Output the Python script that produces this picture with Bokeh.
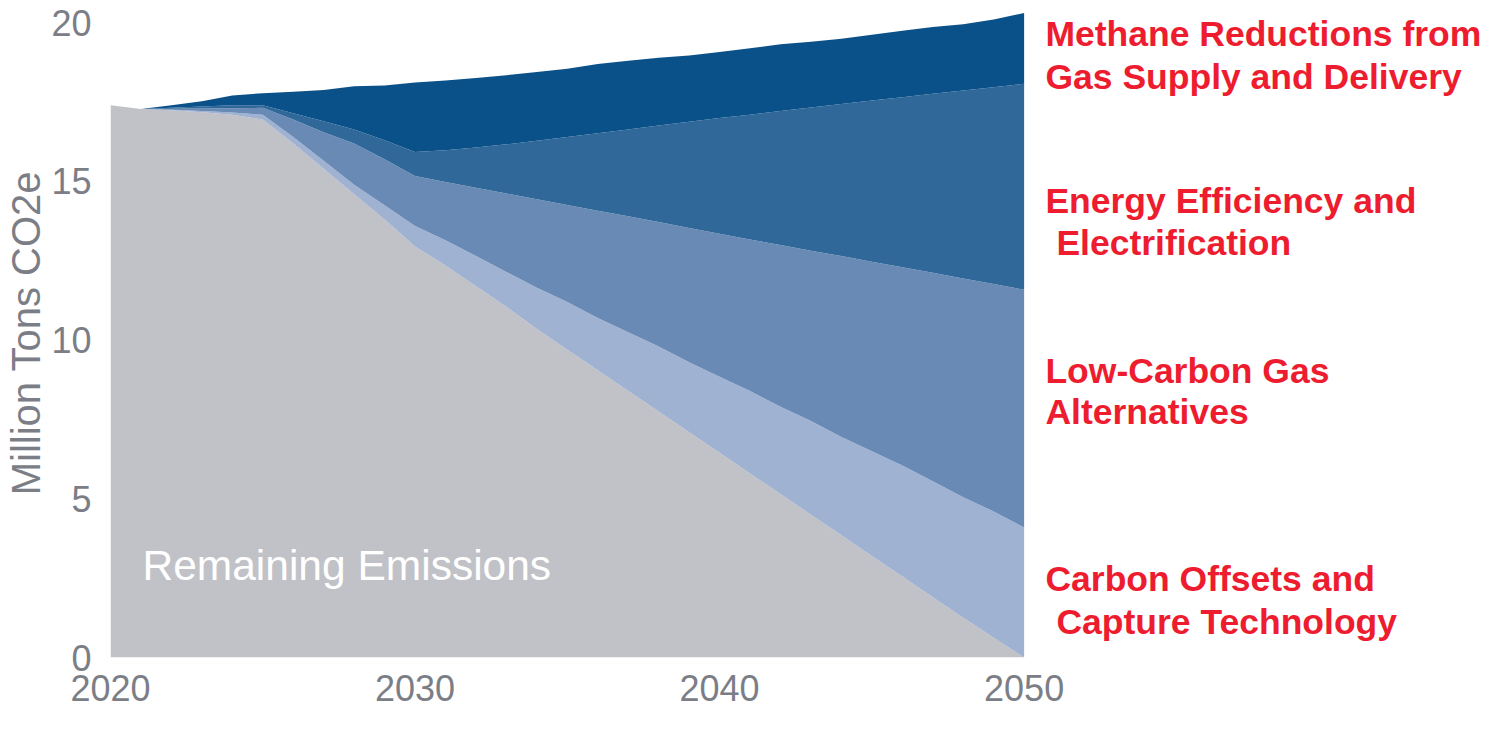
from bokeh.plotting import figure
from bokeh.models import ColumnDataSource, FixedTicker, Range1d
from bokeh.core.properties import value
from bokeh.embed import file_html
from bokeh.resources import INLINE

years = list(range(2020, 2051))

remaining = [17.40, 17.28, 17.24, 17.18, 17.10, 16.95, 16.20, 15.40, 14.60, 13.80,
             12.95, 12.35, 11.70, 11.05, 10.35, 9.70, 9.05, 8.40, 7.75, 7.10,
             6.45, 5.80, 5.15, 4.50, 3.85, 3.20, 2.55, 1.90, 1.25, 0.62, 0.00]
offsets = [0.00, 0.00, 0.02, 0.04, 0.07, 0.15, 0.20, 0.25, 0.30, 0.45,
           0.65, 0.80, 0.95, 1.10, 1.30, 1.50, 1.65, 1.85, 2.05, 2.20,
           2.40, 2.60, 2.75, 2.95, 3.10, 3.30, 3.50, 3.65, 3.80, 3.98, 4.10]
low_carbon = [0.00, 0.00, 0.03, 0.08, 0.14, 0.22, 0.55, 0.90, 1.30, 1.45,
              1.57, 1.83, 2.15, 2.47, 2.79, 3.06, 3.38, 3.65, 3.92, 4.23,
              4.50, 4.77, 5.10, 5.37, 5.70, 5.97, 6.25, 6.57, 6.89, 7.17, 7.49]
efficiency = [0.00, 0.00, 0.03, 0.06, 0.09, 0.08, 0.20, 0.35, 0.44, 0.60,
              0.76, 1.00, 1.27, 1.55, 1.84, 2.14, 2.44, 2.74, 3.04, 3.35,
              3.65, 3.93, 4.22, 4.51, 4.79, 5.08, 5.35, 5.64, 5.93, 6.20, 6.49]
methane = [0.00, 0.00, 0.08, 0.17, 0.31, 0.38, 0.68, 0.98, 1.36, 1.72,
           2.19, 2.20, 2.19, 2.18, 2.17, 2.15, 2.18, 2.16, 2.14, 2.09,
           2.08, 2.10, 2.10, 2.07, 2.06, 2.07, 2.10, 2.11, 2.08, 2.13, 2.23]

x_ticks = [2020, 2030, 2040, 2050]
y_ticks = [0, 5, 10, 15, 20]

layer_names = ["remaining", "offsets", "low_carbon", "efficiency", "methane"]
layer_colors = ["#c1c2c7", "#9fb2d2", "#6a8ab6", "#2f6899", "#0b5189"]

label_lines = [
    ["Methane Reductions from", "Gas Supply and Delivery"],
    ["Energy Efficiency and", " Electrification"],
    ["Low-Carbon Gas", "Alternatives"],
    ["Carbon Offsets and", " Capture Technology"],
]

source = ColumnDataSource(dict(year=years, remaining=remaining, offsets=offsets,
                               low_carbon=low_carbon, efficiency=efficiency,
                               methane=methane))

FONT = "Liberation Sans"
GREY = "#7b7e86"
RED = "#ed1c2e"

p = figure(width=1485, height=715, output_backend="svg", toolbar_location=None,
           x_range=Range1d(2020, 2065.15), y_range=Range1d(0, 20.45),
           min_border_left=110, min_border_right=0, min_border_top=8,
           min_border_bottom=58)
p.outline_line_color = None
p.background_fill_color = "white"
p.xgrid.visible = False
p.ygrid.visible = False

p.varea_stack(stackers=layer_names, x="year", color=layer_colors, source=source)

# axes
for ax in (p.xaxis[0], p.yaxis[0]):
    ax.axis_line_color = None
    ax.major_tick_line_color = None
    ax.minor_tick_line_color = None
    ax.major_label_text_color = GREY
    ax.major_label_text_font = FONT
    ax.major_label_text_font_size = "36px"
p.xaxis.ticker = FixedTicker(ticks=x_ticks)
p.yaxis.ticker = FixedTicker(ticks=y_ticks)
p.xaxis.major_label_standoff = 11
p.yaxis.major_label_standoff = 13
p.yaxis.bounds = (0, 24.14)
p.yaxis.axis_label = "Million Tons CO2e"
p.yaxis.axis_label_text_font = FONT
p.yaxis.axis_label_text_font_size = "40px"
p.yaxis.axis_label_text_font_style = "normal"
p.yaxis.axis_label_text_color = GREY
p.yaxis.axis_label_standoff = 0

# in-area label
p.text(x=[2021.05], y=[2.90], text=["Remaining Emissions"], text_color="white",
       text_font=value(FONT), text_font_size="42.5px", text_baseline="alphabetic",
       text_align="left")

# right-side labels
base_x = 2050.70
line_y = [[19.64, 18.30], [14.40, 13.06], [9.04, 7.73], [2.47, 1.12]]
for lines, ys in zip(label_lines, line_y):
    for t, yy in zip(lines, ys):
        off = 0
        if t.startswith(" "):
            off = 11
        p.text(x=[base_x], y=[yy], text=[t.strip()], x_offset=off,
               text_color=RED, text_font=value(FONT), text_font_size="35.5px",
               text_font_style="bold", text_baseline="alphabetic", text_align="left")

open("out.html", "w").write(file_html(p, INLINE))
